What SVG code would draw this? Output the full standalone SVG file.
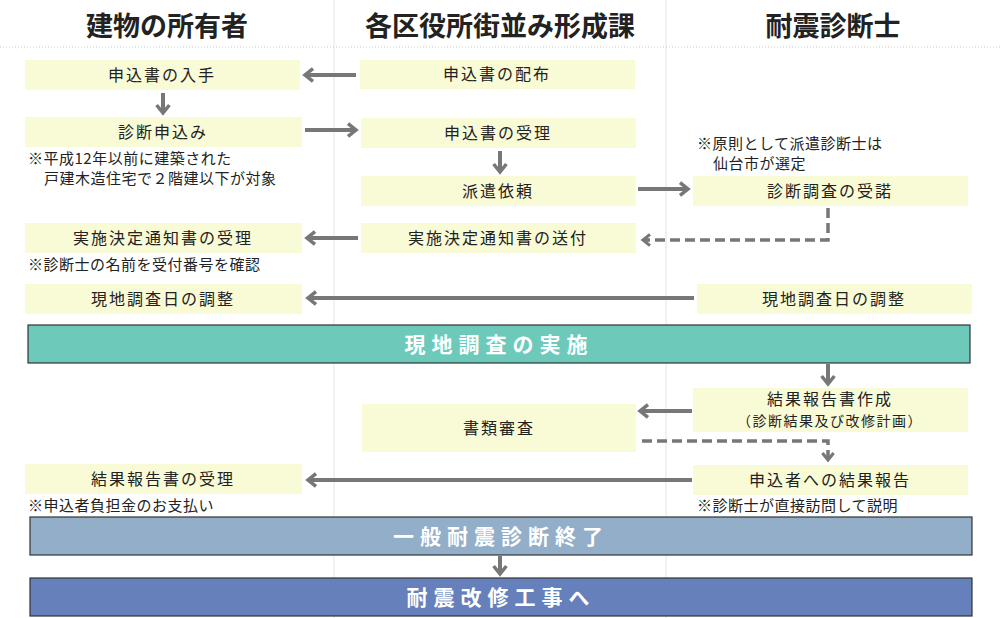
<svg xmlns="http://www.w3.org/2000/svg" width="1000" height="618" viewBox="0 0 1000 618">
<style>
text{font-family:"Noto Sans CJK JP","Noto Sans",sans-serif;fill:#222}
.h{font-size:27px;font-weight:bold;text-anchor:middle}
.b{fill:#f9fad6}
.t{font-size:16px;text-anchor:middle;letter-spacing:2px}
.n{font-size:15px;letter-spacing:0.5px}
.bar{stroke:#333;stroke-width:1.2}
.bt{font-size:21px;font-weight:bold;fill:#fff;text-anchor:middle;letter-spacing:6px}
.c{fill:none;stroke:#777;stroke-width:4}
.d{fill:none;stroke:#777;stroke-width:3.5;stroke-dasharray:10 5}
</style>
<defs>
<marker id="a" viewBox="0 0 10 10" refX="7" refY="5" markerWidth="4" markerHeight="4" orient="auto" markerUnits="strokeWidth">
<polyline points="2,1 7,5 2,9" fill="none" stroke="#777" stroke-width="2.2"/>
</marker>
</defs>
<rect width="1000" height="618" fill="#fff"/>
<g id="grid" stroke="#e4e4e4" stroke-width="1">
<line x1="334" y1="0" x2="334" y2="618"/>
<line x1="666" y1="0" x2="666" y2="618"/>
<line x1="0" y1="47" x2="1000" y2="47" stroke-dasharray="1 2" stroke="#ccc"/>
</g>
<g id="headers">
<text class="h" x="167" y="36">建物の所有者</text>
<text class="h" x="500" y="36">各区役所街並み形成課</text>
<text class="h" x="833" y="36">耐震診断士</text>
</g>
<g id="n1"><rect class="b" x="25" y="60" width="275" height="30"/><text class="t" x="162" y="81">申込書の入手</text></g>
<g id="n2"><rect class="b" x="25" y="117" width="277" height="30"/><text class="t" x="163" y="138">診断申込み</text>
<text class="n" x="28" y="164">※平成12年以前に建築された</text><text class="n" x="44" y="184">戸建木造住宅で２階建以下が対象</text></g>
<g id="n3"><rect class="b" x="25" y="223" width="277" height="30"/><text class="t" x="163" y="244">実施決定通知書の受理</text>
<text class="n" x="28" y="270">※診断士の名前を受付番号を確認</text></g>
<g id="n4"><rect class="b" x="25" y="284" width="277" height="30"/><text class="t" x="163" y="305">現地調査日の調整</text></g>
<g id="n5"><rect class="b" x="25" y="464" width="277" height="30"/><text class="t" x="163" y="485">結果報告書の受理</text>
<text class="n" x="28" y="511">※申込者負担金のお支払い</text></g>
<g id="m1"><rect class="b" x="360" y="60" width="275" height="29"/><text class="t" x="497" y="80">申込書の配布</text></g>
<g id="m2"><rect class="b" x="361" y="118" width="275" height="30"/><text class="t" x="498" y="139">申込書の受理</text></g>
<g id="m3"><rect class="b" x="361" y="176" width="275" height="30"/><text class="t" x="498" y="197">派遣依頼</text></g>
<g id="m4"><rect class="b" x="361" y="223" width="275" height="30"/><text class="t" x="498" y="244">実施決定通知書の送付</text></g>
<g id="m5"><rect class="b" x="362" y="404" width="274" height="48"/><text class="t" x="499" y="434">書類審査</text></g>
<g id="r1"><text class="n" x="697" y="149">※原則として派遣診断士は</text><text class="n" x="713" y="169">仙台市が選定</text>
<rect class="b" x="693" y="176" width="275" height="30"/><text class="t" x="830" y="197">診断調査の受諾</text></g>
<g id="r2"><rect class="b" x="697" y="284" width="275" height="30"/><text class="t" x="834" y="305">現地調査日の調整</text></g>
<g id="r3"><rect class="b" x="693" y="388" width="275" height="44"/><text class="t" x="830" y="405">結果報告書作成</text><text class="t" x="830" y="426" style="font-size:14px;letter-spacing:1.5px">（診断結果及び改修計画）</text></g>
<g id="r4"><rect class="b" x="693" y="465" width="275" height="30"/><text class="t" x="830" y="486">申込者への結果報告</text>
<text class="n" x="697" y="511">※診断士が直接訪問して説明</text></g>
<g id="bar1"><rect class="bar" x="28" y="325" width="942" height="38" fill="#6dcabb"/><text class="bt" x="499" y="352">現地調査の実施</text></g>
<g id="bar2"><rect class="bar" x="30" y="517" width="942" height="38" fill="#92aec8"/><text class="bt" x="501" y="544">一般耐震診断終了</text></g>
<g id="bar3"><rect class="bar" x="30" y="578" width="942" height="38" fill="#6680bb"/><text class="bt" x="501" y="605">耐震改修工事へ</text></g>
<g id="connectors">
<line class="c" x1="356" y1="75" x2="305" y2="75" marker-end="url(#a)"/>
<line class="c" x1="163" y1="93" x2="163" y2="113" marker-end="url(#a)"/>
<line class="c" x1="305" y1="130" x2="356" y2="130" marker-end="url(#a)"/>
<line class="c" x1="500" y1="151" x2="500" y2="172" marker-end="url(#a)"/>
<line class="c" x1="638" y1="189" x2="688" y2="189" marker-end="url(#a)"/>
<polyline class="d" points="828,208 828,240 643,240" marker-end="url(#a)"/>
<line class="c" x1="358" y1="238" x2="307" y2="238" marker-end="url(#a)"/>
<line class="c" x1="694" y1="298" x2="308" y2="298" marker-end="url(#a)"/>
<line class="c" x1="828" y1="364" x2="828" y2="384" marker-end="url(#a)"/>
<line class="c" x1="692" y1="411" x2="640" y2="411" marker-end="url(#a)"/>
<polyline class="d" points="642,441 828,441 828,460" marker-end="url(#a)"/>
<line class="c" x1="692" y1="480" x2="308" y2="480" marker-end="url(#a)"/>
<line class="c" x1="500" y1="556" x2="500" y2="574" marker-end="url(#a)"/>
</g>
</svg>
